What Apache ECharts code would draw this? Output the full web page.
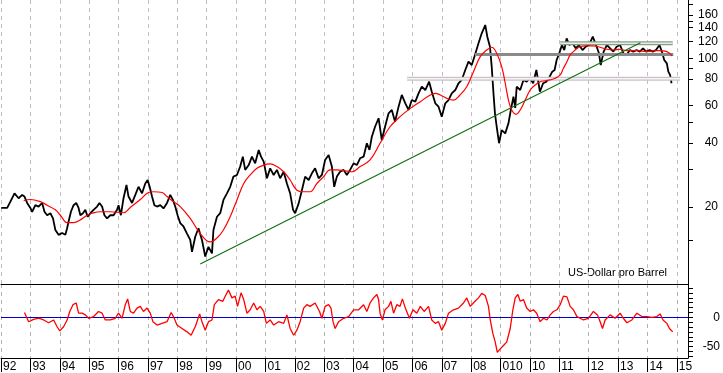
<!DOCTYPE html>
<html>
<head>
<meta charset="utf-8">
<script src="https://cdn.jsdelivr.net/npm/echarts@6/dist/echarts.min.js"></script>
<style>
html,body{margin:0;padding:0;background:#fff;}
#chart{width:723px;height:373px;}
</style>
</head>
<body>
<div id="chart"></div>
<script>
// ---- Data (decimal years) ----
const priceYears = [1992.01,1992.21,1992.32,1992.46,1992.60,1992.72,1992.80,1992.89,1993.00,1993.06,
1993.17,1993.28,1993.40,1993.48,1993.57,1993.68,1993.77,1993.85,1993.96,1994.08,
1994.19,1994.25,1994.30,1994.38,1994.47,1994.56,1994.64,1994.70,1994.79,1994.87,
1994.95,1995.04,1995.15,1995.27,1995.35,1995.44,1995.52,1995.61,1995.72,1995.83,
1995.95,1996.00,1996.08,1996.17,1996.27,1996.34,1996.46,1996.57,1996.68,1996.80,
1996.91,1996.99,1997.06,1997.14,1997.22,1997.31,1997.42,1997.53,1997.65,1997.76,
1997.85,1997.93,1998.01,1998.10,1998.21,1998.33,1998.44,1998.50,1998.61,1998.72,
1998.84,1998.95,1999.06,1999.18,1999.23,1999.35,1999.46,1999.57,1999.69,1999.80,
1999.91,2000.03,2000.14,2000.23,2000.31,2000.43,2000.54,2000.65,2000.77,2000.85,
2000.94,2001.05,2001.16,2001.28,2001.39,2001.50,2001.62,2001.73,2001.84,2001.94,
2002.01,2002.13,2002.24,2002.35,2002.47,2002.58,2002.69,2002.81,2002.92,2003.03,
2003.15,2003.26,2003.34,2003.43,2003.54,2003.66,2003.77,2003.88,2004.00,2004.11,
2004.22,2004.34,2004.45,2004.54,2004.62,2004.73,2004.85,2004.96,2005.07,2005.19,
2005.30,2005.41,2005.53,2005.64,2005.76,2005.87,2005.98,2006.10,2006.21,2006.32,
2006.44,2006.57,2006.66,2006.78,2006.89,2007.00,2007.12,2007.23,2007.34,2007.46,
2007.57,2007.68,2007.80,2007.91,2008.02,2008.13,2008.25,2008.36,2008.48,2008.55,
2008.64,2008.70,2008.76,2008.81,2008.87,2008.95,2009.04,2009.16,2009.27,2009.35,
2009.44,2009.50,2009.55,2009.67,2009.78,2009.89,2010.00,2010.11,2010.22,2010.34,
2010.45,2010.56,2010.67,2010.76,2010.84,2010.91,2011.00,2011.09,2011.17,2011.25,
2011.34,2011.45,2011.56,2011.67,2011.79,2011.90,2012.01,2012.14,2012.25,2012.35,
2012.41,2012.51,2012.62,2012.73,2012.84,2012.95,2013.07,2013.18,2013.29,2013.40,
2013.52,2013.63,2013.74,2013.85,2013.96,2014.07,2014.18,2014.29,2014.41,2014.51,
2014.57,2014.66,2014.71,2014.77,2014.82];
const priceValues = [19.8,19.8,21.2,23.2,22.0,22.8,22.4,20.9,19.8,19.0,
20.4,20.1,20.9,19.0,18.3,18.7,17.7,15.6,14.8,15.1,
14.8,15.9,17.1,19.0,20.4,20.9,19.8,18.3,18.7,19.4,
18.0,18.7,19.4,20.1,20.9,20.1,18.3,17.7,18.3,18.3,
19.4,20.4,18.3,22.0,25.4,22.4,20.9,22.8,24.9,23.2,
25.8,26.8,24.9,22.4,20.4,20.1,20.4,19.7,20.9,22.8,
21.6,20.1,18.3,16.8,16.2,15.0,14.0,12.3,14.5,15.9,
14.0,11.7,13.0,12.1,15.6,18.0,18.7,21.6,23.2,24.9,
27.8,28.3,31.0,34.5,29.9,31.5,34.5,32.1,37.1,34.5,
32.7,27.3,30.4,28.3,29.9,27.3,29.3,25.8,23.2,19.4,
18.7,20.8,24.0,27.8,26.8,28.8,30.4,27.3,28.3,33.3,
35.1,31.0,24.9,27.8,29.3,29.9,28.3,29.9,32.1,31.5,
33.9,34.5,39.9,37.1,42.8,47.7,52.3,41.3,47.7,55.2,
57.2,50.4,59.3,67.3,61.5,57.2,63.7,62.6,68.5,73.6,
71.0,77.7,69.7,61.5,59.3,53.2,61.5,63.7,68.5,71.0,
76.4,79.2,88.2,96.5,93.1,103.8,117.8,131.2,143.6,126.5,
113.5,91.4,68.5,55.2,47.7,39.9,46.0,44.4,49.5,57.2,
66.1,58.5,73.6,71.0,79.2,77.7,80.6,76.4,88.2,69.7,
76.4,77.7,82.0,86.6,88.2,98.3,105.7,115.6,109.5,124.3,
115.6,117.8,111.6,115.6,109.5,113.5,115.6,126.5,115.6,105.7,
93.1,107.6,115.6,111.6,107.6,113.5,115.6,105.7,103.8,109.5,
107.6,109.5,107.6,111.6,107.6,109.5,107.6,109.5,115.6,105.7,
98.3,94.8,86.6,83.6,76.4];

const maYears = [1992.77,1993.00,1993.34,1993.57,1993.85,1994.02,1994.25,1994.47,1994.70,1994.93,
1995.10,1995.38,1995.72,1996.17,1996.40,1996.74,1997.02,1997.19,1997.48,1997.65,
1997.87,1998.10,1998.44,1998.78,1999.12,1999.35,1999.57,1999.80,2000.03,2000.26,
2000.48,2000.71,2000.94,2001.16,2001.39,2001.62,2001.84,2002.07,2002.30,2002.52,
2002.75,2002.98,2003.20,2003.43,2003.66,2003.94,2004.22,2004.56,2004.90,2005.24,
2005.58,2005.93,2006.27,2006.61,2006.78,2006.95,2007.17,2007.40,2007.62,2007.85,
2008.08,2008.31,2008.53,2008.70,2008.87,2009.04,2009.16,2009.27,2009.38,2009.53,
2009.67,2009.84,2010.01,2010.18,2010.35,2010.52,2010.69,2010.86,2011.03,2011.14,
2011.26,2011.37,2011.54,2011.71,2011.88,2012.16,2012.39,2012.62,2012.84,2013.07,
2013.30,2013.64,2013.98,2014.32,2014.55,2014.73,2014.84];
const maValues = [21.4,21.7,21.2,20.4,19.4,18.3,16.9,16.9,17.4,18.3,
18.7,19.0,19.0,18.8,19.9,21.7,23.4,23.6,23.4,22.4,
21.2,20.1,17.7,15.0,13.7,14.3,15.6,18.0,21.6,25.8,
28.3,30.4,31.5,31.9,31.0,29.3,26.8,24.0,23.6,23.6,
25.8,27.8,29.9,29.9,29.7,29.3,31.0,33.3,39.9,47.7,
53.2,58.2,62.6,67.3,68.5,67.3,64.9,63.7,67.3,73.6,
86.6,101.9,109.5,112.8,105.7,91.4,76.4,63.7,57.2,54.6,
57.2,63.7,71.0,75.0,77.7,78.5,79.2,80.6,83.6,89.8,
96.5,103.8,109.5,113.5,114.4,114.4,112.8,110.4,109.5,110.4,
108.7,108.7,107.6,108.7,108.5,106.4,102.6];

const oscYears = [1992.80,1992.94,1993.11,1993.28,1993.45,1993.62,1993.79,1993.91,1994.00,1994.13,
1994.25,1994.34,1994.45,1994.56,1994.64,1994.76,1994.87,1994.98,1995.15,1995.32,
1995.44,1995.55,1995.72,1995.89,1996.00,1996.12,1996.23,1996.31,1996.40,1996.51,
1996.63,1996.74,1996.85,1996.97,1997.08,1997.17,1997.31,1997.48,1997.65,1997.79,
1997.87,1997.99,1998.16,1998.33,1998.47,1998.61,1998.76,1998.84,1998.95,1999.06,
1999.18,1999.26,1999.40,1999.55,1999.63,1999.74,1999.86,1999.97,2000.05,2000.17,
2000.26,2000.37,2000.48,2000.60,2000.71,2000.82,2000.94,2001.03,2001.16,2001.28,
2001.45,2001.62,2001.73,2001.84,2001.96,2002.07,2002.18,2002.30,2002.41,2002.52,
2002.69,2002.84,2002.92,2003.03,2003.15,2003.23,2003.30,2003.37,2003.49,2003.66,
2003.83,2004.00,2004.17,
2004.22,2004.34,2004.45,2004.56,2004.68,2004.79,2004.85,2004.90,2004.98,2005.07,
2005.19,2005.27,2005.36,2005.47,2005.58,2005.66,2005.76,2005.90,2006.02,2006.15,
2006.27,2006.40,2006.55,2006.66,2006.78,2006.89,2007.00,2007.12,2007.23,2007.40,
2007.57,2007.74,2007.85,2007.97,2008.13,2008.25,2008.36,2008.48,2008.59,2008.65,
2008.74,2008.82,2008.89,2008.99,2009.10,2009.21,2009.33,2009.42,2009.50,2009.59,
2009.67,2009.78,2009.89,2010.01,2010.12,2010.23,2010.35,2010.46,2010.58,2010.69,
2010.80,2010.92,2011.03,2011.14,2011.26,2011.37,2011.48,2011.60,2011.71,2011.82,
2011.99,2012.16,2012.30,2012.39,2012.47,2012.56,2012.73,2012.90,2013.07,2013.18,
2013.30,2013.47,2013.64,2013.81,2013.98,2014.15,2014.32,2014.43,2014.53,2014.66,
2014.75,2014.86];
const oscValues = [8,-7.7,-3.5,-1.5,-4.6,-9.3,-4.6,-16.2,-23.2,-16.2,
-4.6,9.9,21.5,24.4,7.0,7.0,4.1,-1.7,1.2,9.9,
7.0,-4.6,-4.6,-1.7,7.0,-1.7,21.5,31.4,9.9,7.0,
15.7,18.6,9.9,15.7,7.0,-7.5,-13.3,-10.4,-7.5,8.1,
1.2,-13.3,-19.1,-24.9,-30.7,-16.2,5.8,-7.5,-22,-7.5,
-4.6,21.5,30.2,27.3,36.0,46.4,33.1,36.0,18.6,41.8,
30.2,7.0,12.8,24.4,12.8,18.6,9.9,-10.4,-4.6,-13.3,
-7.5,-10.4,4.1,-19.1,-30.7,-22,-7.5,15.7,21.5,18.6,
24.4,9.9,-1.7,18.6,21.5,15.7,-7.5,-19.1,-7.5,-1.7,
1.2,12.8,12.8,
12.8,21.5,9.9,24.4,33.1,38.9,30.2,7.0,-4.6,12.8,
18.6,27.3,7.0,21.5,18.6,31.4,15.7,-1.7,12.8,7.0,
18.6,9.9,18.6,-4.6,-10.4,-7.5,-22,-10.4,7.0,12.8,
15.7,24.4,33.1,18.6,27.3,33.1,40.7,37.2,18.6,-4.6,
-27.9,-42.4,-59.8,-54,-48.2,-42.4,-19.1,12.8,33.1,38.9,
27.3,30.2,15.7,9.9,12.8,7.0,-7.5,-1.7,-4.6,4.1,
9.9,12.8,21.5,36.0,34.8,18.6,12.8,1.2,-1.7,-4.6,
-1.7,9.9,4.1,-7.5,-19.1,-4.6,4.1,-1.7,7.0,-1.7,
-9.3,-4.6,7.0,1.2,1.2,0,1.2,5.8,-4.6,-10.4,
-19.1,-24.9];

// Horizontal levels [startYear, endYear, price]
const upperBand = [2011.03, 2014.86, 117.8];
const middleBand = [2008.13, 2014.88, 104.3];
const lowerBand = [2005.82, 2015.11, 80.3];
// Trend line end points [year, price]
const trendStart = [1998.78, 10.8];
const trendEnd = [2013.76, 118.5];

// Axis labels
const yearTicks = [1992,1993,1994,1995,1996,1997,1998,1999,2000,2001,2002,2003,2004,2005,2006,2007,2008,2009,2010,2011,2012,2013,2014,2015];
const yearLabels = ['92','93','94','95','96','97','98','99','00','01','02','03','04','05','06','07','08','010','10','11','12','13','14','15'];
const priceLabelValues = [20,40,60,80,100,120,140,160];
const priceTickValues = [14,20,30,40,50,60,80,90,100,120,140,150,160,180];
const oscLabelValues = [0,-50];
const oscTickValues = [-66.67,-58.33,-50,-41.67,-33.33,-25,-16.67,-8.33,0,8.33,16.67,25,33.33,41.67,50];
const unitText = 'US-Dollar pro Barrel';

// ---- Build ----
const zip = (a, b) => a.map((v, i) => [v, b[i]]);
const X_MIN = 1992, X_MAX = 2015.38;
const FONT = 'Liberation Sans, Arial, sans-serif';

function bandSeries(band, color, width, z) {
  return {
    type: 'line', xAxisIndex: 0, yAxisIndex: 0, symbol: 'none', silent: true, z: z,
    data: [[band[0], band[2]], [band[1], band[2]]],
    lineStyle: { color: color, width: width }
  };
}

const chart = echarts.init(document.getElementById('chart'), null, { renderer: 'canvas' });
chart.setOption({
  animation: false,
  backgroundColor: '#fff',
  grid: [
    { left: 1, top: 0, width: 687, height: 284 },
    { left: 1, top: 284, width: 687, height: 74 }
  ],
  xAxis: [
    {
      gridIndex: 0, type: 'value', min: X_MIN, max: X_MAX, interval: 1,
      axisLine: { show: true, onZero: false, lineStyle: { color: '#000', width: 1 } },
      axisTick: { show: false }, axisLabel: { show: false },
      splitLine: { show: true, lineStyle: { color: '#c3bacb', type: [4, 4], width: 1 } }
    },
    {
      gridIndex: 1, type: 'value', min: X_MIN, max: X_MAX, interval: 1,
      axisLine: { show: true, onZero: false, lineStyle: { color: '#000', width: 1 } },
      axisTick: { show: true, length: 14, lineStyle: { color: '#000', width: 1 } },
      axisLabel: {
        show: true, align: 'left', margin: 3, padding: [0, 0, 0, 2],
        color: '#000', fontSize: 12, fontFamily: FONT,
        showMinLabel: true, showMaxLabel: false,
        formatter: function (v) {
          const i = yearTicks.indexOf(Math.round(v));
          return (Math.abs(v - Math.round(v)) < 1e-6 && i >= 0) ? yearLabels[i] : '';
        }
      },
      splitLine: { show: true, lineStyle: { color: '#b0b3a8', type: [4, 4], width: 1 } }
    }
  ],
  yAxis: [
    {
      gridIndex: 0, type: 'log', logBase: 10, min: 8.69, max: 188.2, position: 'right',
      axisLine: { show: true, lineStyle: { color: '#000', width: 1 } },
      axisTick: { show: true, length: 5, customValues: priceTickValues, lineStyle: { color: '#000' } },
      axisLabel: { show: true, customValues: priceLabelValues, align: 'right', margin: 30,
                   color: '#000', fontSize: 12, fontFamily: FONT },
      splitLine: { show: false }, minorTick: { show: false }
    },
    {
      gridIndex: 1, type: 'value', min: -69.5, max: 56.8, position: 'right',
      axisLine: { show: true, lineStyle: { color: '#000', width: 1 } },
      axisTick: { show: true, length: 5, customValues: oscTickValues, lineStyle: { color: '#000' } },
      axisLabel: { show: true, customValues: oscLabelValues, align: 'right', margin: 32,
                   color: '#000', fontSize: 12, fontFamily: FONT },
      splitLine: { show: false }
    }
  ],
  series: [
    {
      name: 'Preis', type: 'line', xAxisIndex: 0, yAxisIndex: 0, symbol: 'none', z: 3,
      data: zip(priceYears, priceValues),
      lineStyle: { color: '#000', width: 1.8 }
    },
    bandSeries(middleBand, '#8a8a8a', 3, 4),
    bandSeries(upperBand, '#86a086', 4, 4),
    bandSeries(upperBand, '#e6ece6', 1.5, 4),
    bandSeries(lowerBand, '#c9c2c9', 4, 4),
    bandSeries(lowerBand, '#f4f2f4', 1.5, 4),
    {
      name: 'Durchschnitt', type: 'line', xAxisIndex: 0, yAxisIndex: 0, symbol: 'none', z: 5,
      smooth: 0.4, data: zip(maYears, maValues),
      lineStyle: { color: '#ff0000', width: 1.2 }
    },
    {
      name: 'Trend', type: 'line', xAxisIndex: 0, yAxisIndex: 0, symbol: 'none', z: 6,
      data: [trendStart, trendEnd],
      lineStyle: { color: '#0f6e0f', width: 1.1 }
    },
    {
      name: 'Oszillator', type: 'line', xAxisIndex: 1, yAxisIndex: 1, symbol: 'none', z: 5,
      data: zip(oscYears, oscValues),
      lineStyle: { color: '#ff0000', width: 1.3 },
      markLine: {
        silent: true, symbol: 'none', label: { show: false },
        lineStyle: { color: '#0000cc', type: 'solid', width: 1.2 },
        data: [{ yAxis: 0 }]
      }
    }
  ],
  graphic: [
    {
      type: 'text', x: 667, y: 273, silent: true,
      style: { text: unitText, fill: '#000', font: '11px ' + FONT, textAlign: 'right', textVerticalAlign: 'middle' }
    }
  ]
});
</script>
</body>
</html>
